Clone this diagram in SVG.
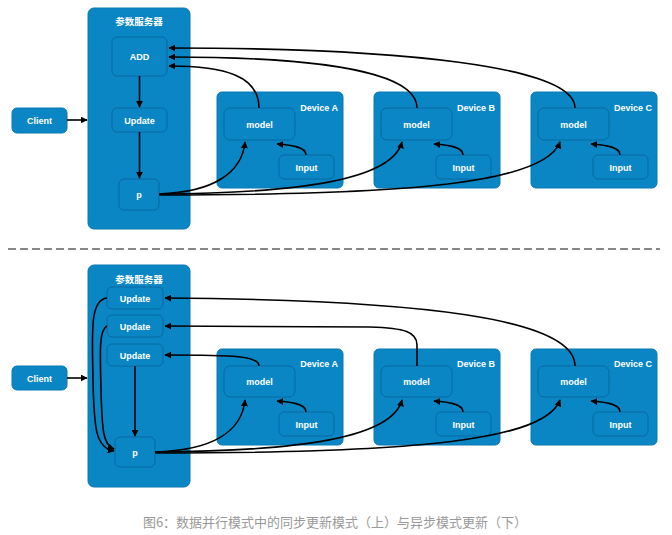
<svg xmlns="http://www.w3.org/2000/svg" width="672" height="535" viewBox="0 0 672 535">
<defs>
<marker id="ah" viewBox="0 0 10 10" refX="9" refY="5" markerWidth="7" markerHeight="7" markerUnits="userSpaceOnUse" orient="auto">
<path d="M0,0 L10,5 L0,10 z" fill="#000"/>
</marker>
<style>
.outer{fill:#0b86c5;stroke:#0a78b2;stroke-width:1}
.inner{fill:#0b86c5;stroke:#0868a0;stroke-width:1}
.t{font-family:"Liberation Sans",Arial,sans-serif;font-size:9px;font-weight:bold;fill:#fff;text-anchor:middle}
.title{font-family:"Liberation Sans","Noto Sans CJK SC",sans-serif;font-size:9.5px;font-weight:bold;fill:#fff;text-anchor:middle}
.dl{font-family:"Liberation Sans",Arial,sans-serif;font-size:9px;font-weight:bold;fill:#fff;text-anchor:end}
.c{fill:none;stroke:#000;stroke-width:1.6;marker-end:url(#ah)}
.cap{font-family:"Noto Sans CJK SC",sans-serif;font-size:13px;fill:#999;text-anchor:middle}
</style>
</defs>
<rect width="672" height="535" fill="#fff"/>

<!-- TOP: synchronous -->
<g id="server-top">
<rect class="outer" x="88" y="8" width="102" height="221" rx="6"/>
<text class="title" x="139" y="25">参数服务器</text>
</g>
<g id="add-top"><rect class="inner" x="112" y="37" width="55" height="39" rx="5"/><text class="t" x="139.5" y="60">ADD</text></g>
<g id="update-top"><rect class="inner" x="112" y="108" width="55" height="24" rx="5"/><text class="t" x="139.5" y="123.5">Update</text></g>
<g id="p-top"><rect class="inner" x="119" y="179" width="40" height="31" rx="5"/><text class="t" x="139" y="198">p</text></g>
<g id="client-top"><rect class="outer" x="12" y="108" width="55" height="25" rx="5"/><text class="t" x="39.5" y="124">Client</text></g>

<g id="devA-top"><rect class="outer" x="217" y="92" width="126" height="96" rx="5"/><text class="dl" x="338" y="111">Device A</text></g>
<g id="modelA-top"><rect class="inner" x="224" y="108" width="71" height="32" rx="6"/><text class="t" x="259.5" y="127.5">model</text></g>
<g id="inputA-top"><rect class="inner" x="279" y="155" width="55" height="24" rx="5"/><text class="t" x="306.5" y="170.5">Input</text></g>

<g id="devB-top"><rect class="outer" x="374" y="92" width="126" height="96" rx="5"/><text class="dl" x="495" y="111">Device B</text></g>
<g id="modelB-top"><rect class="inner" x="381" y="108" width="71" height="32" rx="6"/><text class="t" x="416.5" y="127.5">model</text></g>
<g id="inputB-top"><rect class="inner" x="436" y="155" width="55" height="24" rx="5"/><text class="t" x="463.5" y="170.5">Input</text></g>

<g id="devC-top"><rect class="outer" x="531" y="92" width="126" height="96" rx="5"/><text class="dl" x="652" y="111">Device C</text></g>
<g id="modelC-top"><rect class="inner" x="538" y="108" width="71" height="32" rx="6"/><text class="t" x="573.5" y="127.5">model</text></g>
<g id="inputC-top"><rect class="inner" x="593" y="155" width="55" height="24" rx="5"/><text class="t" x="620.5" y="170.5">Input</text></g>

<!-- BOTTOM: asynchronous -->
<g id="server-bot">
<rect class="outer" x="88" y="265" width="102" height="222" rx="6"/>
<text class="title" x="139" y="283">参数服务器</text>
</g>
<g id="update1-bot"><rect class="inner" x="107" y="287" width="56" height="22" rx="5"/><text class="t" x="135" y="301.5">Update</text></g>
<g id="update2-bot"><rect class="inner" x="107" y="315" width="56" height="22" rx="5"/><text class="t" x="135" y="329.5">Update</text></g>
<g id="update3-bot"><rect class="inner" x="107" y="344" width="56" height="22" rx="5"/><text class="t" x="135" y="358.5">Update</text></g>
<g id="p-bot"><rect class="inner" x="115" y="437" width="40" height="30" rx="5"/><text class="t" x="135" y="455.5">p</text></g>
<g id="client-bot"><rect class="outer" x="12" y="366" width="55" height="24" rx="5"/><text class="t" x="39.5" y="381.5">Client</text></g>

<g id="devA-bot"><rect class="outer" x="217" y="349" width="126" height="96" rx="5"/><text class="dl" x="338" y="367">Device A</text></g>
<g id="modelA-bot"><rect class="inner" x="224" y="366" width="71" height="31" rx="6"/><text class="t" x="259.5" y="385">model</text></g>
<g id="inputA-bot"><rect class="inner" x="279" y="412" width="55" height="24" rx="5"/><text class="t" x="306.5" y="427.5">Input</text></g>

<g id="devB-bot"><rect class="outer" x="374" y="349" width="126" height="96" rx="5"/><text class="dl" x="495" y="367">Device B</text></g>
<g id="modelB-bot"><rect class="inner" x="381" y="366" width="71" height="31" rx="6"/><text class="t" x="416.5" y="385">model</text></g>
<g id="inputB-bot"><rect class="inner" x="436" y="412" width="55" height="24" rx="5"/><text class="t" x="463.5" y="427.5">Input</text></g>

<g id="devC-bot"><rect class="outer" x="531" y="349" width="126" height="96" rx="5"/><text class="dl" x="652" y="367">Device C</text></g>
<g id="modelC-bot"><rect class="inner" x="538" y="366" width="71" height="31" rx="6"/><text class="t" x="573.5" y="385">model</text></g>
<g id="inputC-bot"><rect class="inner" x="593" y="412" width="55" height="24" rx="5"/><text class="t" x="620.5" y="427.5">Input</text></g>

<g id="connectors">
<!-- top -->
<path class="c" d="M67,120 L87,120"/>
<path class="c" d="M139.5,76 L139.5,107"/>
<path class="c" d="M139.5,132 L139.5,178"/>
<path class="c" d="M259,108 C259,76 225,66 169,66"/>
<path class="c" d="M417,108 C417,72 320,57 169,57"/>
<path class="c" d="M575,108 C575,66 400,48 169,48"/>
<path class="c" d="M159,194 C215,192 242,172 245,142"/>
<path class="c" d="M159,194 C300,193 392,180 402,142"/>
<path class="c" d="M159,195 C420,195 545,182 560,142"/>
<path class="c" d="M306,155 C306,147 292,145 277,144"/>
<path class="c" d="M463,155 C463,147 449,145 434,144"/>
<path class="c" d="M620,155 C620,147 606,145 591,144"/>
<!-- bottom -->
<path class="c" d="M67,378 L87,378"/>
<path class="c" d="M135,366 L135,436"/>
<path class="c" d="M107,298 C90,300 92,330 93,380 C94,430 96,448 114,451"/>
<path class="c" d="M107,326 C99,330 100,350 101,390 C102,430 103,445 114,449"/>
<path class="c" d="M259,366 C259,356 235,355 165,355"/>
<path class="c" d="M417,366 L417,345 C417,332 405,328 370,327 L165,326"/>
<path class="c" d="M575,366 C575,318 420,300 165,298"/>
<path class="c" d="M155,452 C215,450 242,430 245,400"/>
<path class="c" d="M155,452 C300,451 392,438 402,400"/>
<path class="c" d="M155,453 C420,453 545,440 560,400"/>
<path class="c" d="M306,412 C306,404 292,402 277,401"/>
<path class="c" d="M463,412 C463,404 449,402 434,401"/>
<path class="c" d="M620,412 C620,404 606,402 591,401"/>
</g>

<line x1="8" y1="249" x2="660" y2="249" stroke="#888" stroke-width="2" stroke-dasharray="8,4"/>

<text class="cap" x="335" y="527">图6：数据并行模式中的同步更新模式（上）与异步模式更新（下）</text>
</svg>
